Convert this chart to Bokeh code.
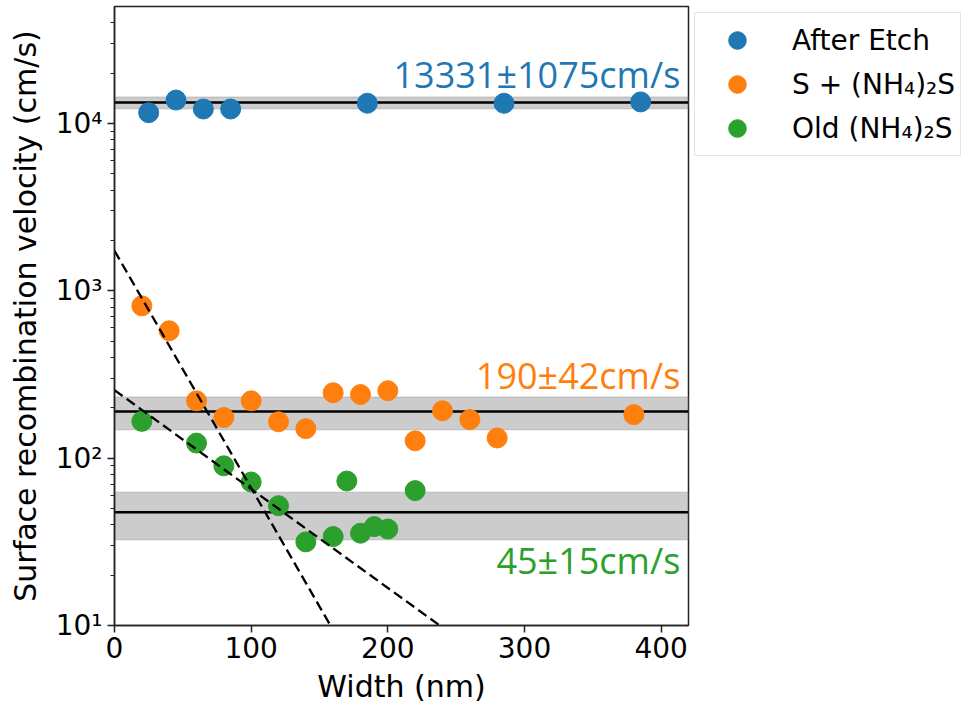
from bokeh.plotting import figure
from bokeh.models import (Range1d, FixedTicker, Span, BoxAnnotation, Label,
                          Legend, LegendItem)
from bokeh.embed import file_html
from bokeh.resources import INLINE

# ---- data ----
etch_x = [25, 45, 65, 85, 185, 285, 385]
etch_y = [11600, 13800, 12200, 12200, 13200, 13200, 13450]

s_x = [20, 40, 60, 80, 100, 120, 140, 160, 180, 200, 220, 240, 260, 280, 380]
s_y = [813, 577, 220, 175, 220, 165, 150, 246, 240, 253, 127, 192, 170, 132, 182]

old_x = [20, 60, 80, 100, 120, 140, 160, 170, 180, 190, 200, 220]
old_y = [166, 123, 90, 72, 52, 31.6, 34, 73, 35.6, 39, 37.7, 64]

fit_steep_x = [0, 158]
fit_steep_y = [1735, 10]
fit_shallow_x = [0, 238]
fit_shallow_y = [255, 10]

means = [13331, 190, 47.5]
errors = [1075, 42, 15]
mean_labels = ["13331±1075cm/s", "190±42cm/s", "45±15cm/s"]
label_y = [19600, 312, 24.5]

series_names = ["After Etch", "S + (NH₄)₂S", "Old (NH₄)₂S"]
colors = ["#1f77b4", "#ff7f0e", "#2ca02c"]

y_major = [10, 100, 1000, 10000]
y_major_labels = ["10¹", "10²", "10³", "10⁴"]
x_major = [0, 100, 200, 300, 400]

y_minor = [m * 10 ** k for k in range(1, 5) for m in range(2, 10) if m * 10 ** k < 50000]

# ---- figure ----
p = figure(frame_width=574, frame_height=619, x_range=Range1d(0, 420), y_range=Range1d(10, 50000),
           y_axis_type="log", output_backend="svg", toolbar_location=None,
           min_border_left=114, min_border_right=0, min_border_top=6,
           min_border_bottom=73)
p.grid.visible = False
p.outline_line_color = "#222222"
p.outline_line_width = 1.5
p.outline_line_alpha = 1

# bands and mean lines
for m, e in zip(means, errors):
    p.add_layout(BoxAnnotation(bottom=m - e, top=m + e, fill_color="#808080",
                               fill_alpha=0.4, line_color="#808080", line_alpha=0.25,
                               line_width=1.5, level="underlay"))
for m in means:
    p.add_layout(Span(location=m, dimension="width", line_color="black",
                      line_width=2.5, level="underlay"))

r1 = p.scatter(etch_x, etch_y, size=20, color=colors[0])
r2 = p.scatter(s_x, s_y, size=20, color=colors[1])
r3 = p.scatter(old_x, old_y, size=20, color=colors[2])

p.line(fit_steep_x, fit_steep_y, line_color="black", line_width=2.3, line_dash="10 5")
p.line(fit_shallow_x, fit_shallow_y, line_color="black", line_width=2.3, line_dash="10 5")

for txt, ly, c in zip(mean_labels, label_y, colors):
    p.add_layout(Label(x=414, y=ly, text=txt, text_align="right",
                       text_baseline="alphabetic", text_color=c,
                       text_font="Open Sans", text_font_size="36px"))

# axes
for ax in (p.xaxis, p.yaxis):
    ax.axis_label_text_font = "DejaVu Sans"
    ax.axis_label_text_font_size = "30px"
    ax.axis_label_text_font_style = "normal"
    ax.axis_label_text_color = "black"
    ax.major_label_text_font = "DejaVu Sans"
    ax.major_label_text_font_size = "28px"
    ax.major_label_text_color = "black"
    ax.axis_line_color = "#222222"
    ax.axis_line_width = 1.5
    ax.major_tick_line_color = "#222222"
    ax.major_tick_line_width = 1.5
    ax.major_tick_out = 7
    ax.major_tick_in = 0
    ax.minor_tick_line_color = "#222222"
    ax.minor_tick_line_width = 1.2
    ax.minor_tick_out = 4
    ax.minor_tick_in = 0

p.xaxis.axis_label = "Width (nm)"
p.xaxis.ticker = FixedTicker(ticks=x_major)
p.xaxis.minor_tick_line_color = None
p.xaxis.major_label_standoff = 4
p.xaxis.axis_label_standoff = 8

p.yaxis.axis_label = "Surface recombination velocity (cm/s)"
p.yaxis.ticker = FixedTicker(ticks=y_major, minor_ticks=y_minor)
p.yaxis.major_label_overrides = {t: l for t, l in zip(y_major, y_major_labels)}
p.yaxis.major_label_standoff = 5
p.yaxis.axis_label_standoff = 10

# legend (outside the frame, to the right)
legend = Legend(items=[LegendItem(label=n, renderers=[r]) for n, r in zip(series_names, [r1, r2, r3])],
                location="top_left")
legend.label_text_font = "DejaVu Sans"
legend.label_text_font_size = "28px"
legend.label_text_color = "black"
legend.padding = 5
legend.spacing = 0
legend.margin = 6
legend.glyph_height = 44
legend.glyph_width = 74
legend.label_standoff = 18
legend.label_height = 44
legend.border_line_color = "#cccccc"
legend.border_line_width = 1.5
legend.background_fill_color = "white"
legend.background_fill_alpha = 1
p.add_layout(legend, "right")

open("out.html", "w").write(file_html(p, INLINE))
